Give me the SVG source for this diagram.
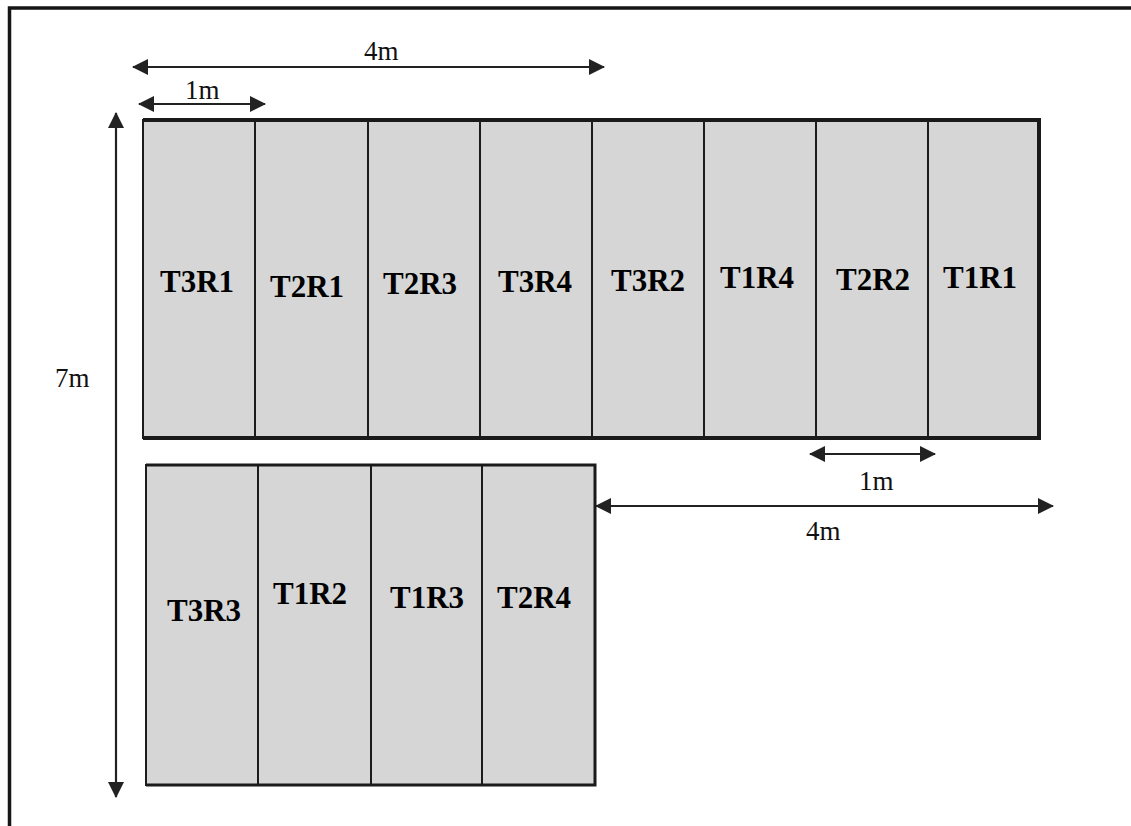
<svg xmlns="http://www.w3.org/2000/svg" width="1131" height="826" viewBox="0 0 1131 826">
<defs>
<style>
.cell{fill:#d6d6d6;stroke:#1c1c1c;stroke-width:2}
.lbl{font-family:"Liberation Serif","Times New Roman",serif;font-weight:bold;font-size:31px;fill:#000}
.dim{font-family:"Liberation Serif","Times New Roman",serif;font-size:27px;fill:#111}
.arr{stroke:#222;stroke-width:2.2;fill:none}
.frame{stroke:#161616;stroke-width:3.5;fill:none}
</style>
<marker id="ah" viewBox="0 0 16 16" refX="15" refY="8" markerWidth="16" markerHeight="16" markerUnits="userSpaceOnUse" orient="auto-start-reverse">
<path d="M0,0 L16,8 L0,16 Z" fill="#222"/>
</marker>
</defs>
<rect width="1131" height="826" fill="#fff"/>
<path class="frame" d="M9.5,826 L9.5,8 L1131,8"/>

<g id="top-bed">
<g id="T3R1"><rect class="cell" x="143" y="120" width="112" height="318"/><text class="lbl" x="160" y="292">T3R1</text></g>
<g id="T2R1"><rect class="cell" x="255" y="120" width="113" height="318"/><text class="lbl" x="270" y="297">T2R1</text></g>
<g id="T2R3"><rect class="cell" x="368" y="120" width="112" height="318"/><text class="lbl" x="383" y="294">T2R3</text></g>
<g id="T3R4"><rect class="cell" x="480" y="120" width="112" height="318"/><text class="lbl" x="498" y="292">T3R4</text></g>
<g id="T3R2"><rect class="cell" x="592" y="120" width="112" height="318"/><text class="lbl" x="611" y="291">T3R2</text></g>
<g id="T1R4"><rect class="cell" x="704" y="120" width="112" height="318"/><text class="lbl" x="720" y="288">T1R4</text></g>
<g id="T2R2"><rect class="cell" x="816" y="120" width="112" height="318"/><text class="lbl" x="836" y="290">T2R2</text></g>
<g id="T1R1"><rect class="cell" x="928" y="120" width="111" height="318"/><text class="lbl" x="943" y="288">T1R1</text></g>
<path d="M143,120 L1039,120 L1039,438 L143,438" fill="none" stroke="#1a1a1a" stroke-width="4"/>
</g>

<g id="bottom-bed">
<g id="T3R3"><rect class="cell" x="146" y="465" width="112" height="320"/><text class="lbl" x="167" y="621">T3R3</text></g>
<g id="T1R2"><rect class="cell" x="258" y="465" width="113" height="320"/><text class="lbl" x="273" y="604">T1R2</text></g>
<g id="T1R3"><rect class="cell" x="371" y="465" width="111" height="320"/><text class="lbl" x="390" y="608">T1R3</text></g>
<g id="T2R4"><rect class="cell" x="482" y="465" width="113" height="320"/><text class="lbl" x="497" y="608">T2R4</text></g>
<path d="M146,465 L595,465 L595,785 L146,785" fill="none" stroke="#1a1a1a" stroke-width="3"/>
</g>

<g id="connectors">
<line class="arr" x1="133" y1="67" x2="604" y2="67" marker-start="url(#ah)" marker-end="url(#ah)"/>
<line class="arr" x1="139" y1="104" x2="265" y2="104" marker-start="url(#ah)" marker-end="url(#ah)"/>
<line class="arr" x1="116" y1="113" x2="116" y2="797" marker-start="url(#ah)" marker-end="url(#ah)"/>
<line class="arr" x1="810" y1="454" x2="935" y2="454" marker-start="url(#ah)" marker-end="url(#ah)"/>
<line class="arr" x1="596" y1="506" x2="1053" y2="506" marker-start="url(#ah)" marker-end="url(#ah)"/>
</g>

<g id="dimension-labels">
<text class="dim" x="364" y="60">4m</text>
<text class="dim" x="185" y="99">1m</text>
<text class="dim" x="55" y="387">7m</text>
<text class="dim" x="859" y="490">1m</text>
<text class="dim" x="806" y="540">4m</text>
</g>
</svg>
